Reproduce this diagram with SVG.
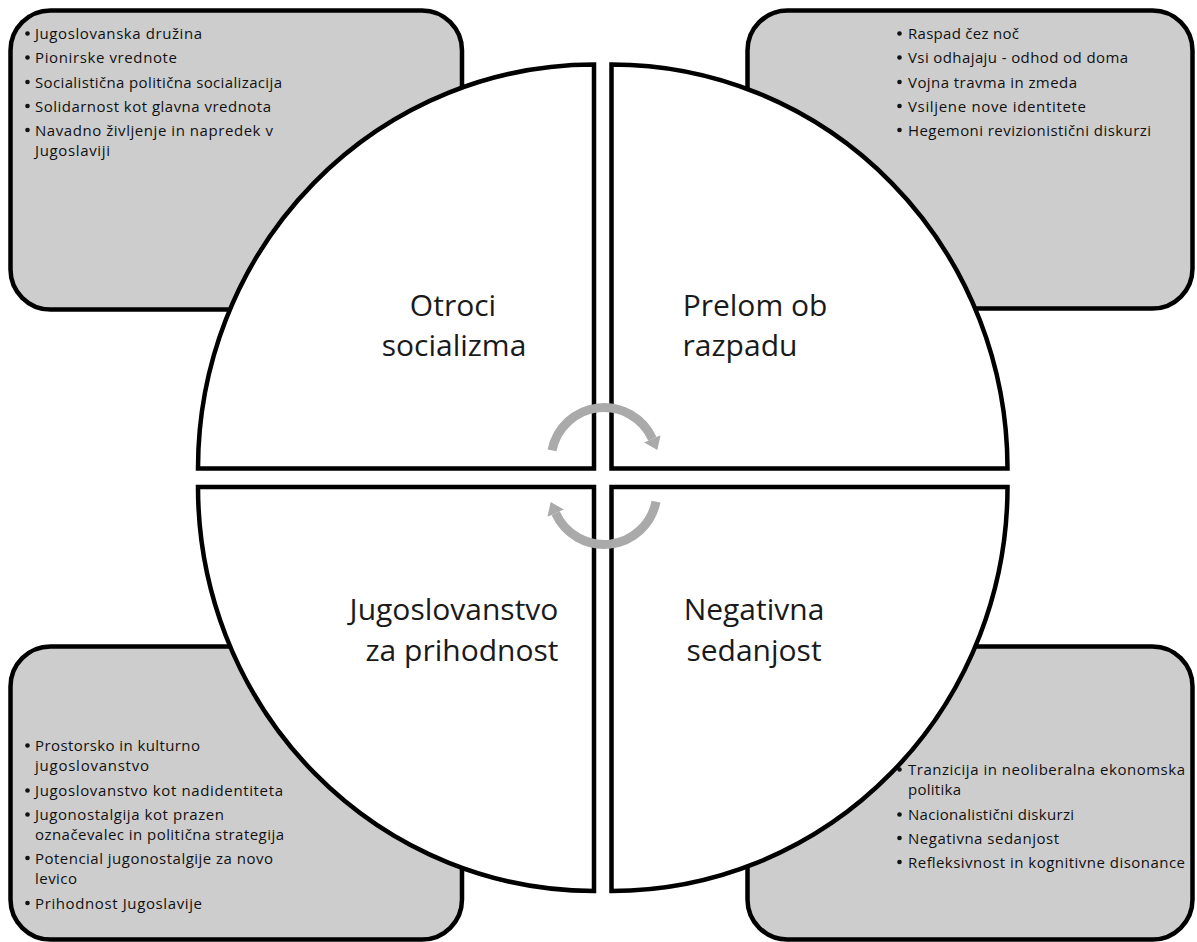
<svg xmlns="http://www.w3.org/2000/svg" width="1197" height="942" viewBox="0 0 1197 942">
<style>
.box{fill:#cdcdcd;stroke:#000;stroke-width:4.5}
.quad{fill:#fff;stroke:#000;stroke-width:4.5}
.item{font-family:"Open Sans","Liberation Sans",sans-serif;font-size:15px;fill:#111}
.bul{fill:#111}
.lbl{font-family:"Open Sans","Liberation Sans",sans-serif;font-size:30px;fill:#1a1a1a;text-anchor:middle}
.arc{fill:none;stroke:#aaaaaa;stroke-width:9}
.head{fill:#aaaaaa}
</style>
<rect width="1197" height="942" fill="#fff"/>

<g id="box-tl">
<rect class="box" x="10.5" y="10.5" width="451.5" height="299" rx="40" ry="40"/>
<circle class="bul" cx="27.5" cy="33.5" r="2.3"/><text class="item" x="35" y="39" textLength="167" lengthAdjust="spacing">Jugoslovanska družina</text>
<circle class="bul" cx="27.5" cy="57.5" r="2.3"/><text class="item" x="35" y="63" textLength="142" lengthAdjust="spacing">Pionirske vrednote</text>
<circle class="bul" cx="27.5" cy="82" r="2.3"/><text class="item" x="35" y="87.5" textLength="247" lengthAdjust="spacing">Socialistična politična socializacija</text>
<circle class="bul" cx="27.5" cy="106" r="2.3"/><text class="item" x="35" y="111.5" textLength="236" lengthAdjust="spacing">Solidarnost kot glavna vrednota</text>
<circle class="bul" cx="27.5" cy="130" r="2.3"/><text class="item" x="35" y="135.5" textLength="238" lengthAdjust="spacing">Navadno življenje in napredek v</text>
<text class="item" x="35" y="155.5" textLength="75" lengthAdjust="spacing">Jugoslaviji</text>
</g>

<g id="box-tr">
<rect class="box" x="747.5" y="10.5" width="445" height="298" rx="40" ry="40"/>
<circle class="bul" cx="899.5" cy="33.5" r="2.3"/><text class="item" x="908" y="39" textLength="111" lengthAdjust="spacing">Raspad čez noč</text>
<circle class="bul" cx="899.5" cy="57.5" r="2.3"/><text class="item" x="908" y="63" textLength="220" lengthAdjust="spacing">Vsi odhajaju - odhod od doma</text>
<circle class="bul" cx="899.5" cy="82" r="2.3"/><text class="item" x="908" y="87.5" textLength="169" lengthAdjust="spacing">Vojna travma in zmeda</text>
<circle class="bul" cx="899.5" cy="106" r="2.3"/><text class="item" x="908" y="111.5" textLength="178" lengthAdjust="spacing">Vsiljene nove identitete</text>
<circle class="bul" cx="899.5" cy="130" r="2.3"/><text class="item" x="908" y="135.5" textLength="243" lengthAdjust="spacing">Hegemoni revizionistični diskurzi</text>
</g>

<g id="box-bl">
<rect class="box" x="10.5" y="646.5" width="451.5" height="293" rx="40" ry="40"/>
<circle class="bul" cx="27.5" cy="745.5" r="2.3"/><text class="item" x="35" y="751" textLength="165" lengthAdjust="spacing">Prostorsko in kulturno</text>
<text class="item" x="35" y="771" textLength="114" lengthAdjust="spacing">jugoslovanstvo</text>
<circle class="bul" cx="27.5" cy="790.5" r="2.3"/><text class="item" x="35" y="796" textLength="248" lengthAdjust="spacing">Jugoslovanstvo kot nadidentiteta</text>
<circle class="bul" cx="27.5" cy="814.5" r="2.3"/><text class="item" x="35" y="820" textLength="189" lengthAdjust="spacing">Jugonostalgija kot prazen</text>
<text class="item" x="35" y="840" textLength="249" lengthAdjust="spacing">označevalec in politična strategija</text>
<circle class="bul" cx="27.5" cy="858" r="2.3"/><text class="item" x="35" y="863.5" textLength="238" lengthAdjust="spacing">Potencial jugonostalgije za novo</text>
<text class="item" x="35" y="883.5" textLength="42" lengthAdjust="spacing">levico</text>
<circle class="bul" cx="27.5" cy="903" r="2.3"/><text class="item" x="35" y="908.5" textLength="167" lengthAdjust="spacing">Prihodnost Jugoslavije</text>
</g>

<g id="box-br">
<rect class="box" x="747.5" y="646.5" width="445" height="293" rx="40" ry="40"/>
<circle class="bul" cx="899.5" cy="769.5" r="2.3"/><text class="item" x="908" y="775" textLength="277" lengthAdjust="spacing">Tranzicija in neoliberalna ekonomska</text>
<text class="item" x="908" y="795" textLength="53" lengthAdjust="spacing">politika</text>
<circle class="bul" cx="899.5" cy="814.5" r="2.3"/><text class="item" x="908" y="820" textLength="166" lengthAdjust="spacing">Nacionalistični diskurzi</text>
<circle class="bul" cx="899.5" cy="838" r="2.3"/><text class="item" x="908" y="843.5" textLength="151" lengthAdjust="spacing">Negativna sedanjost</text>
<circle class="bul" cx="899.5" cy="862" r="2.3"/><text class="item" x="908" y="867.5" textLength="277" lengthAdjust="spacing">Refleksivnost in kognitivne disonance</text>
</g>

<g id="quad-tl">
<path class="quad" d="M594,468.5 L198,468.5 A396,404 0 0 1 594,64.5 Z"/>
<text class="lbl" x="453" y="316">Otroci</text>
<text class="lbl" x="454" y="356">socializma</text>
</g>
<g id="quad-tr">
<path class="quad" d="M611.5,468.5 L611.5,64.5 A396,404 0 0 1 1007.5,468.5 Z"/>
<text class="lbl" x="755" y="316">Prelom ob</text>
<text class="lbl" x="740" y="356">razpadu</text>
</g>
<g id="quad-bl">
<path class="quad" d="M594,487 L594,891 A396,404 0 0 1 198,487 Z"/>
<text class="lbl" x="454" y="620">Jugoslovanstvo</text>
<text class="lbl" x="462" y="661">za prihodnost</text>
</g>
<g id="quad-br">
<path class="quad" d="M611.5,487 L1007.5,487 A396,404 0 0 1 611.5,891 Z"/>
<text class="lbl" x="754" y="620">Negativna</text>
<text class="lbl" x="754" y="661">sedanjost</text>
</g>

<g id="connectors">
<g id="cycle-top">
<path class="arc" d="M552,450.4 A53,53 0 0 1 652.4,438.9"/>
<polygon class="head" points="644.2,442.6 660.6,435.3 657.3,449.9"/>
</g>
<g id="cycle-bottom" transform="rotate(180 604 476)">
<path class="arc" d="M552,450.4 A53,53 0 0 1 652.4,438.9"/>
<polygon class="head" points="644.2,442.6 660.6,435.3 657.3,449.9"/>
</g>
</g>
</svg>
